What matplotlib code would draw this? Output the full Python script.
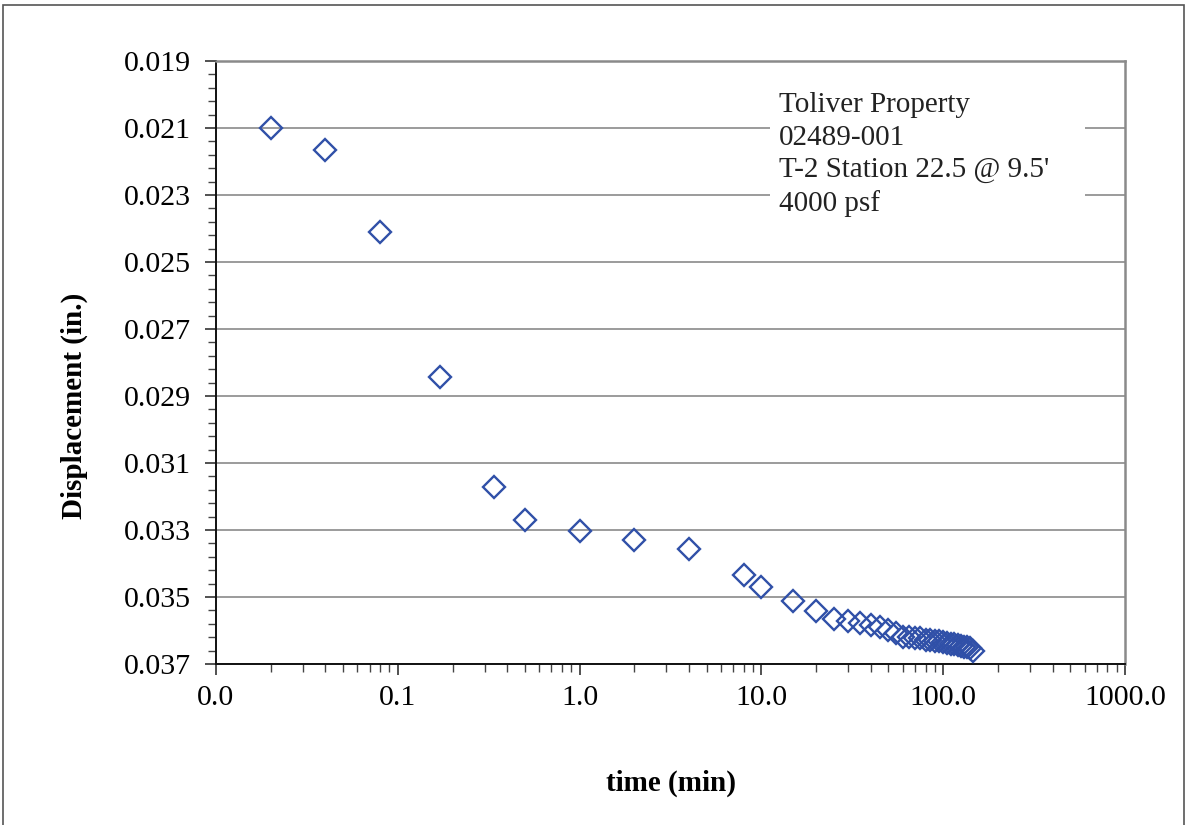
import matplotlib
matplotlib.use("Agg")
import matplotlib.pyplot as plt
from matplotlib.ticker import FuncFormatter, FixedLocator, LogLocator, NullFormatter
from matplotlib.patches import Rectangle

# Data (time in minutes, displacement in inches)
time_min = [0.02, 0.04, 0.08, 0.17, 0.34, 0.5, 1.0, 2.0, 4.0, 8.0, 10.0, 15.0, 20.0, 25.0,
            30.0, 35.0, 40.0, 45.0, 50.0, 55.0, 60.0, 65.0, 70.0, 75.0, 80.0, 85.0, 90.0,
            95.0, 100.0, 105.0, 110.0, 115.0, 120.0, 125.0, 130.0, 135.0, 140.0, 145.0]
displacement = [0.0210, 0.02166, 0.0241, 0.02843, 0.03172, 0.0327, 0.03303, 0.0333, 0.03357,
                0.03434, 0.0347, 0.03512, 0.03542, 0.03566, 0.03572, 0.03578, 0.03584,
                0.0359, 0.03599, 0.03607, 0.03619, 0.03619, 0.03622, 0.03622, 0.03628,
                0.03628, 0.0363, 0.03632, 0.03634, 0.03637, 0.0364, 0.0364, 0.03643,
                0.03646, 0.0365, 0.0365, 0.03652, 0.0366]
y_ticks = [0.019, 0.021, 0.023, 0.025, 0.027, 0.029, 0.031, 0.033, 0.035, 0.037]
annotation_lines = ["Toliver Property", "02489-001", "T-2 Station 22.5 @ 9.5'", "4000 psf"]
x_label = "time (min)"
y_label = "Displacement (in.)"

plt.rcParams['font.family'] = ['Liberation Serif', 'DejaVu Serif']

W, H = 1194, 825
fig = plt.figure(figsize=(W / 100, H / 100), dpi=100)
ax = fig.add_axes([216 / W, 1 - 664 / H, (1125 - 216) / W, (664 - 61) / H])

# figure frame
fig.patches.append(Rectangle((3 / W, -0.1), (1184 - 3) / W, 1 - 5 / H + 0.1,
                             transform=fig.transFigure, fill=False,
                             edgecolor='#555555', linewidth=1.2))

ax.plot(time_min, displacement, linestyle='none', marker='D', markersize=11,
        markerfacecolor='none', markeredgecolor='#3050A8', markeredgewidth=1.7,
        zorder=3, clip_on=False)

ax.set_xscale('log')
ax.set_xlim(0.01, 1000)
ax.set_ylim(y_ticks[-1], y_ticks[0])

ax.xaxis.set_major_locator(LogLocator(base=10, numticks=10))
ax.xaxis.set_minor_locator(LogLocator(base=10, subs=range(2, 10), numticks=100))
ax.xaxis.set_minor_formatter(NullFormatter())
ax.xaxis.set_major_formatter(FuncFormatter(lambda v, p: f"{v:.1f}"))

ax.yaxis.set_major_locator(FixedLocator(y_ticks))
minor_y = [a + (b - a) * k / 5 for a, b in zip(y_ticks[:-1], y_ticks[1:]) for k in range(1, 5)]
ax.yaxis.set_minor_locator(FixedLocator(minor_y))
ax.yaxis.set_major_formatter(FuncFormatter(lambda v, p: f"{v:.3f}"))

ax.grid(axis='y', which='major', color='#808080', linewidth=1.1)
ax.set_axisbelow(True)

ax.tick_params(axis='both', which='major', labelsize=21.5, length=8, width=1.1,
               direction='out', color='#222222')
ax.tick_params(axis='both', which='minor', length=6, width=1.0, direction='out',
               color='#444444')
ax.tick_params(axis='y', which='major', pad=10)
ax.tick_params(axis='x', which='major', pad=7)

for s in ['left', 'bottom']:
    ax.spines[s].set_color('#111111')
    ax.spines[s].set_linewidth(1.4)
for s in ['top', 'right']:
    ax.spines[s].set_color('#8a8a8a')
    ax.spines[s].set_linewidth(1.8)

ax.set_xlabel(x_label, fontsize=21, fontweight='bold')
ax.set_ylabel(y_label, fontsize=21, fontweight='bold')
ax.xaxis.set_label_coords(0.5, -0.175)
ax.yaxis.set_label_coords(-0.141, (664 - 406) / 603)

# annotation box
ax.add_patch(Rectangle(((770 - 216) / 909, (664 - 225) / 603), (1085 - 770) / 909,
                       (225 - 85) / 603, transform=ax.transAxes, facecolor='white',
                       edgecolor='none', zorder=1))
ax.text((779 - 216) / 909, (664 - 92) / 603, "\n".join(annotation_lines),
        transform=ax.transAxes, fontsize=21, va='top', ha='left', linespacing=1.33,
        color='#222222', zorder=4)

fig.savefig("out.png", dpi=100)
